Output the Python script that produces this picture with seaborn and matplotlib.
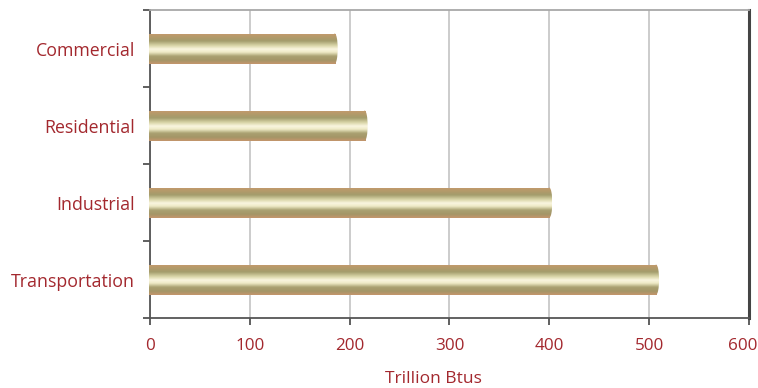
import numpy as np
import pandas as pd
import matplotlib
matplotlib.use("Agg")
import matplotlib.pyplot as plt
import matplotlib.transforms as mtransforms
import seaborn as sns
from matplotlib.colors import LinearSegmentedColormap
from matplotlib.patches import Ellipse
from matplotlib.ticker import FixedLocator

# Energy use by end-use sector (trillion Btus)
sectors = ["Commercial", "Residential", "Industrial", "Transportation"]
consumption = [185, 215, 400, 507]
x_ticks = [0, 100, 200, 300, 400, 500, 600]

sns.set_theme(style="white")
plt.rcParams["font.family"] = ["Open Sans", "DejaVu Sans"]

label_color = "#a3282e"
df = pd.DataFrame({"sector": sectors, "value": consumption})

fig = plt.figure(figsize=(7.58, 3.88), dpi=100)
ax = fig.add_axes([0.198, 0.18, 0.790, 0.794])

sns.barplot(data=df, x="value", y="sector", orient="h", width=0.39,
            color="#c9c29a", edgecolor="none", ax=ax, zorder=3)

# Cylinder-like shading across the height of each bar
tube = LinearSegmentedColormap.from_list("tube", [
    (0.00, "#c69a6e"), (0.12, "#b49a6a"), (0.25, "#a39c6c"),
    (0.40, "#d9d5a8"), (0.52, "#faf6e0"), (0.62, "#eeeac6"),
    (0.75, "#a9a171"), (0.88, "#a49567"), (1.00, "#c4966c")])
grad = np.linspace(0, 1, 128).reshape(-1, 1)

for patch in list(ax.patches):
    x0, y0 = patch.get_x(), patch.get_y()
    w, h = patch.get_width(), patch.get_height()
    patch.set_alpha(0)
    img = ax.imshow(grad, cmap=tube, aspect="auto", interpolation="bilinear",
                    extent=[x0 - 1.5, x0 + w, y0 + h, y0], zorder=3)
    rect = plt.Rectangle((x0 - 1.5, y0), w + 1.5, h, transform=ax.transData,
                         visible=False)
    ax.add_patch(rect)
    img.set_clip_path(rect)
    # rounded end cap
    cap = Ellipse((x0 + w, y0 + h / 2), 6, h, transform=ax.transData, visible=False)
    ax.add_patch(cap)
    img2 = ax.imshow(grad, cmap=tube, aspect="auto", interpolation="bilinear",
                     extent=[x0 + w - 3, x0 + w + 3, y0 + h, y0], zorder=3)
    img2.set_clip_path(cap)

ax.set_xlim(0, 600)
ax.set_ylim(3.5, -0.5)
ax.set_xticks(x_ticks)
ax.set_xticklabels([str(t) for t in x_ticks])
ax.xaxis.grid(True, color="#c4c4c4", linewidth=1.2, zorder=0)
ax.set_axisbelow(True)

ax.set_xlabel("Trillion Btus", color=label_color, fontsize=12.5)
ax.xaxis.set_label_coords(0.474, -0.172)
ax.set_ylabel("")

ax.tick_params(axis="x", which="major", bottom=True, length=5, width=1.2,
               color="#444444", labelcolor=label_color, labelsize=12.3, pad=9)
ax.tick_params(axis="y", which="major", left=False, length=0,
               labelcolor=label_color, labelsize=12.8, pad=11)
ax.yaxis.set_minor_locator(FixedLocator([-0.5, 0.5, 1.5, 2.5, 3.5]))
ax.tick_params(axis="y", which="minor", left=True, length=5, width=1.2,
               color="#444444")

# keep the last tick label inside the figure
last = ax.get_xticklabels()[-1]
last.set_transform(last.get_transform() +
                   mtransforms.ScaledTranslation(-6 / 100, 0, fig.dpi_scale_trans))

for side in ["left", "bottom"]:
    ax.spines[side].set_color("#555555")
    ax.spines[side].set_linewidth(1.3)
ax.spines["top"].set_color("#a8a8a8")
ax.spines["top"].set_linewidth(1.3)
ax.spines["right"].set_color("#444444")
ax.spines["right"].set_linewidth(2.2)

fig.savefig("out.png", dpi=100, facecolor="white")
